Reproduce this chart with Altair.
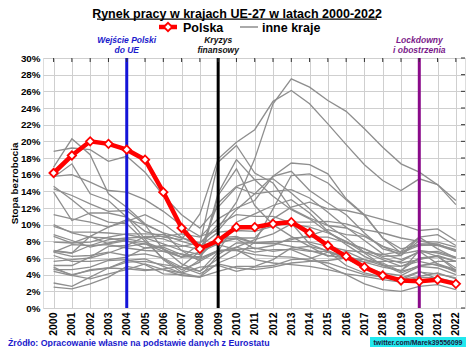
import altair as alt
import pandas as pd

years = list(range(2000, 2023))

poland = [16.2, 18.3, 20.0, 19.7, 19.0, 17.8, 13.9, 9.6, 7.1, 8.1, 9.7, 9.7, 10.1,
          10.3, 9.0, 7.5, 6.2, 4.9, 3.9, 3.3, 3.2, 3.4, 2.9]

AT = [4.7, 4.0, 4.5, 4.8, 5.5, 5.6, 5.2, 4.9, 4.1, 5.3, 4.8, 4.6, 4.9, 5.4, 5.6, 5.7, 6.0, 5.5, 4.9, 4.5, 6.0, 6.2, 4.8]
BE = [6.9, 6.6, 7.5, 8.2, 8.4, 8.5, 8.3, 7.5, 7.0, 7.9, 8.3, 7.1, 7.5, 8.4, 8.5, 8.5, 7.8, 7.1, 6.0, 5.4, 5.8, 6.3, 5.6]
BG = [16.9, 20.3, 18.4, 13.7, 12.1, 10.1, 9.0, 6.9, 5.6, 6.8, 10.3, 11.3, 12.3, 13.0, 11.4, 9.2, 7.6, 6.2, 5.2, 4.2, 5.1, 5.3, 4.3]
HR = [15.8, 16.0, 15.1, 14.1, 13.9, 13.0, 11.6, 9.9, 8.6, 9.3, 11.8, 13.7, 15.8, 17.4, 17.2, 16.1, 13.1, 11.2, 8.4, 6.6, 7.5, 7.6, 7.0]
CY = [4.9, 3.9, 3.5, 4.1, 4.6, 5.3, 4.6, 3.9, 3.7, 5.4, 6.3, 7.9, 11.9, 15.9, 16.1, 15.0, 13.0, 11.1, 8.4, 7.1, 7.6, 7.5, 6.8]
CZ = [8.8, 8.1, 7.3, 7.8, 8.3, 7.9, 7.1, 5.3, 4.4, 6.7, 7.3, 6.7, 7.0, 7.0, 6.1, 5.0, 4.0, 2.9, 2.2, 2.0, 2.6, 2.8, 2.2]
DK = [4.6, 4.6, 4.9, 5.7, 5.8, 5.2, 4.1, 4.0, 3.7, 6.4, 7.8, 7.8, 7.8, 7.4, 6.9, 6.3, 6.0, 5.8, 5.1, 5.0, 5.6, 5.1, 4.5]
EE = [14.6, 13.0, 11.2, 10.3, 10.1, 8.0, 5.9, 4.6, 5.5, 13.5, 16.7, 12.3, 10.0, 8.6, 7.4, 6.2, 6.8, 5.8, 5.4, 4.4, 6.9, 6.2, 5.6]
FI = [9.8, 9.1, 9.1, 9.0, 8.8, 8.4, 7.7, 6.9, 6.4, 8.2, 8.4, 7.8, 7.7, 8.2, 8.7, 9.4, 8.8, 8.6, 7.4, 6.7, 7.7, 7.7, 6.8]
FR = [8.6, 7.8, 7.9, 8.5, 8.9, 8.9, 8.8, 8.0, 7.4, 9.1, 9.3, 9.2, 9.8, 10.3, 10.3, 10.4, 10.1, 9.4, 9.0, 8.4, 8.0, 7.9, 7.3]
DE = [7.9, 7.8, 8.6, 9.7, 10.4, 11.2, 10.1, 8.5, 7.4, 7.6, 7.0, 5.8, 5.4, 5.2, 5.0, 4.6, 4.1, 3.8, 3.4, 3.1, 3.7, 3.6, 3.1]
GR = [11.2, 10.7, 10.3, 9.7, 10.6, 10.0, 9.0, 8.4, 7.8, 9.6, 12.7, 17.9, 24.5, 27.5, 26.5, 24.9, 23.6, 21.5, 19.3, 17.3, 16.3, 14.8, 12.4]
HU = [6.3, 5.6, 5.6, 5.8, 6.1, 7.2, 7.5, 7.4, 7.8, 10.0, 11.2, 11.0, 11.0, 10.2, 7.7, 6.8, 5.1, 4.2, 3.7, 3.4, 4.3, 4.1, 3.6]
IE = [4.4, 3.9, 4.6, 4.8, 4.7, 4.5, 4.7, 5.0, 6.8, 12.6, 14.6, 15.4, 15.5, 13.8, 11.9, 9.9, 8.4, 6.7, 5.8, 5.0, 5.9, 6.2, 4.5]
IT = [10.0, 9.0, 8.5, 8.4, 8.0, 7.7, 6.8, 6.1, 6.7, 7.7, 8.4, 8.4, 10.7, 12.1, 12.7, 11.9, 11.7, 11.2, 10.6, 10.0, 9.3, 9.5, 8.1]
LV = [14.3, 13.5, 12.5, 11.6, 11.7, 10.0, 7.0, 6.1, 7.7, 17.5, 19.5, 16.2, 15.0, 11.9, 10.8, 9.9, 9.6, 8.7, 7.4, 6.3, 8.1, 7.6, 6.9]
LT = [15.7, 17.3, 13.7, 12.9, 10.9, 8.3, 5.8, 4.3, 5.8, 13.8, 17.8, 15.4, 13.4, 11.8, 10.7, 9.1, 7.9, 7.1, 6.2, 6.3, 8.5, 7.1, 6.0]
LU = [2.5, 2.3, 2.9, 3.7, 5.0, 4.6, 4.6, 4.2, 4.9, 5.1, 4.4, 4.9, 5.1, 5.8, 5.9, 6.7, 6.3, 5.5, 5.6, 5.6, 6.8, 5.3, 4.6]
MT = [6.7, 7.6, 7.5, 7.6, 7.2, 6.9, 6.8, 6.5, 6.0, 6.9, 6.9, 6.4, 6.2, 6.1, 5.7, 5.4, 4.7, 4.0, 3.7, 3.6, 4.4, 3.5, 2.9]
NL = [3.0, 2.6, 3.7, 4.8, 5.7, 5.9, 5.0, 4.2, 3.7, 4.4, 5.0, 5.0, 5.8, 7.2, 7.4, 6.9, 6.0, 4.9, 3.8, 3.4, 3.8, 4.2, 3.5]
PT = [5.1, 5.1, 6.1, 7.4, 7.5, 8.6, 8.6, 8.9, 8.5, 10.7, 12.0, 12.9, 15.8, 16.4, 14.1, 12.6, 11.2, 9.0, 7.1, 6.5, 6.9, 6.6, 6.0]
RO = [6.8, 6.6, 8.6, 7.7, 8.1, 7.2, 7.3, 6.4, 5.8, 6.9, 7.0, 7.2, 6.8, 7.1, 6.8, 6.8, 5.9, 4.9, 4.2, 3.9, 5.0, 5.6, 5.6]
SK = [18.8, 19.2, 19.0, 17.6, 18.2, 16.3, 13.5, 11.2, 9.6, 12.1, 14.5, 13.7, 14.0, 14.2, 13.2, 11.5, 9.7, 8.1, 6.5, 5.8, 6.7, 6.8, 6.1]
SI = [6.7, 6.2, 6.3, 6.7, 6.3, 6.5, 6.0, 4.9, 4.4, 5.9, 7.3, 8.2, 8.9, 10.1, 9.7, 9.0, 8.0, 6.6, 5.1, 4.4, 5.0, 4.8, 4.0]
ES = [13.9, 10.5, 11.4, 11.4, 10.9, 9.2, 8.5, 8.2, 11.3, 17.9, 19.9, 21.4, 24.8, 26.1, 24.5, 22.1, 19.6, 17.2, 15.3, 14.1, 15.5, 14.8, 12.9]
SE = [5.6, 5.8, 6.0, 6.6, 7.4, 7.7, 7.1, 6.1, 6.2, 8.4, 8.6, 7.8, 8.0, 8.0, 7.9, 7.4, 6.9, 6.7, 6.4, 6.8, 8.5, 8.8, 7.5]

others = {"AT": AT, "BE": BE, "BG": BG, "HR": HR, "CY": CY, "CZ": CZ, "DK": DK,
          "EE": EE, "FI": FI, "FR": FR, "DE": DE, "GR": GR, "HU": HU, "IE": IE,
          "IT": IT, "LV": LV, "LT": LT, "LU": LU, "MT": MT, "NL": NL, "PT": PT,
          "RO": RO, "SK": SK, "SI": SI, "ES": ES, "SE": SE}

event_years = [2004, 2009, 2020]
event_labels = ["Wejście Polski\ndo UE", "Kryzys\nfinansowy", "Lockdowny\ni obostrzenia"]
event_colors = ["#1414d8", "#000000", "#8a0a8a"]
event_text_colors = ["#1a1acc", "#111111", "#7a1a8a"]

y_ticks = list(range(0, 31, 2))

title_text = "Rynek pracy w krajach UE-27 w latach 2000-2022"
source_text = "Źródło: Opracowanie własne na podstawie danych z Eurostatu"
handle_text = "twitter.com/Marek39556099"

FONT = "Liberation Sans"
W, H = 422, 250

rows = []
for c, vals in others.items():
    for yr, v in zip(years, vals):
        rows.append({"country": c, "year": yr, "rate": v})
df_o = pd.DataFrame(rows)
df_p = pd.DataFrame({"year": years, "rate": poland})
df_e = pd.DataFrame({"year": event_years, "label": event_labels,
                     "color": event_colors, "tcolor": event_text_colors})
df_top = pd.DataFrame({"year": years})
df_right = pd.DataFrame({"rate": y_ticks})
one = pd.DataFrame({"a": [0]})

xs = alt.Scale(domain=[1999.42, 2022.5], nice=False, zero=False)
ys = alt.Scale(domain=[0, 30], nice=False, zero=False)

x_axis = alt.Axis(values=years, format="d", labelAngle=270, labelAlign="right",
                  labelBaseline="middle", labelFontWeight="bold", labelFontSize=10.5,
                  labelPadding=4, tickSize=0, grid=True, gridColor="#cfcfcf",
                  gridWidth=1, domain=False, title=None, labelColor="black",
                  labelFont=FONT, labelOverlap=False, labelFlush=False)
y_axis = alt.Axis(values=y_ticks, labelExpr="datum.value + '%'", labelFontWeight="bold",
                  labelFontSize=9.8, labelPadding=3, tickSize=0, grid=True,
                  gridColor="#cfcfcf", gridWidth=1, domain=False,
                  labelOverlap=False, labelFlush=False,
                  title="Stopa bezrobocia", titleFontWeight="bold", titleFontSize=9.8,
                  titlePadding=1, titleColor="black", labelColor="black",
                  labelFont=FONT, titleFont=FONT)


def X():
    return alt.X("year:Q", scale=xs, axis=x_axis)


def Y():
    return alt.Y("rate:Q", scale=ys, axis=y_axis)


gray = alt.Chart(df_o).mark_line(color="#8e8e8e", strokeWidth=1.3).encode(
    x=X(), y=Y(), detail="country:N")

events = alt.Chart(df_e).mark_rule(strokeWidth=3).encode(
    x=X(), color=alt.Color("color:N", scale=None))

ev_text = alt.Chart(df_e).mark_text(font=FONT, fontSize=8.5, fontWeight="bold",
                                    fontStyle="italic", lineBreak="\n", lineHeight=9.5,
                                    baseline="alphabetic", align="center").encode(
    x=X(), y=alt.value(-15), text="label:N",
    color=alt.Color("tcolor:N", scale=None))

top_ticks = alt.Chart(df_top).mark_rule(color="#333333", strokeWidth=1).encode(
    x=X(), y=alt.value(0), y2=alt.value(4))
right_ticks = alt.Chart(df_right).mark_rule(color="#333333", strokeWidth=1).encode(
    y=Y(), x=alt.value(W - 4), x2=alt.value(W))

pl_line = alt.Chart(df_p).mark_line(color="#ff0000", strokeWidth=4.5).encode(
    x=X(), y=Y())
pl_pts = alt.Chart(df_p).mark_point(shape="diamond", filled=True, fill="white",
                                    stroke="#ff0000", strokeWidth=1.8, size=70,
                                    opacity=1).encode(x=X(), y=Y())

title = alt.Chart(one).mark_text(font=FONT, fontSize=12.5, fontWeight="bold",
                                 baseline="alphabetic", align="center",
                                 color="black").encode(
    x=alt.value(194), y=alt.value(-40.5), text=alt.value(title_text))
underline = alt.Chart(one).mark_rule(color="black", strokeWidth=1.2).encode(
    x=alt.value(54), x2=alt.value(334), y=alt.value(-38.8))

leg_red = alt.Chart(one).mark_rule(color="#ff0000", strokeWidth=4.5).encode(
    x=alt.value(116), x2=alt.value(134), y=alt.value(-31))
leg_dia = alt.Chart(one).mark_point(shape="diamond", filled=True, fill="white",
                                    stroke="#ff0000", strokeWidth=1.8, size=70,
                                    opacity=1).encode(
    x=alt.value(125), y=alt.value(-31))
leg_pl = alt.Chart(one).mark_text(font=FONT, fontSize=12.5, fontWeight="bold",
                                  baseline="alphabetic", align="left",
                                  color="black").encode(
    x=alt.value(140), y=alt.value(-26.5), text=alt.value("Polska"))
leg_gray = alt.Chart(one).mark_rule(color="#8e8e8e", strokeWidth=1.5).encode(
    x=alt.value(197), x2=alt.value(215), y=alt.value(-31))
leg_oth = alt.Chart(one).mark_text(font=FONT, fontSize=12.5, fontWeight="bold",
                                   baseline="alphabetic", align="left",
                                   color="black").encode(
    x=alt.value(219), y=alt.value(-26.5), text=alt.value("inne kraje"))

source = alt.Chart(one).mark_text(font=FONT, fontSize=8.8, fontWeight="bold",
                                  baseline="middle", align="left",
                                  color="#1a1acc").encode(
    x=alt.value(-35), y=alt.value(285), text=alt.value(source_text))
box = alt.Chart(one).mark_rect(color="#22e8ee").encode(
    x=alt.value(327), x2=alt.value(423), y=alt.value(279), y2=alt.value(291))
handle = alt.Chart(one).mark_text(font=FONT, fontSize=6.9, fontWeight="bold",
                                  baseline="middle", align="center",
                                  color="#1a1a40").encode(
    x=alt.value(375), y=alt.value(285), text=alt.value(handle_text))

chart = alt.layer(
    gray, events, top_ticks, right_ticks, pl_line, pl_pts, ev_text,
    title, underline, leg_red, leg_dia, leg_pl, leg_gray, leg_oth,
    source, box, handle,
).properties(
    width=W, height=H,
    padding={"left": 35, "top": 50, "right": 1, "bottom": 39},
    autosize=alt.AutoSizeParams(type="none"),
).configure_view(stroke="black", strokeWidth=1).configure(font=FONT)

chart.save("out.html", embed_options={"renderer": "svg", "actions": False})
